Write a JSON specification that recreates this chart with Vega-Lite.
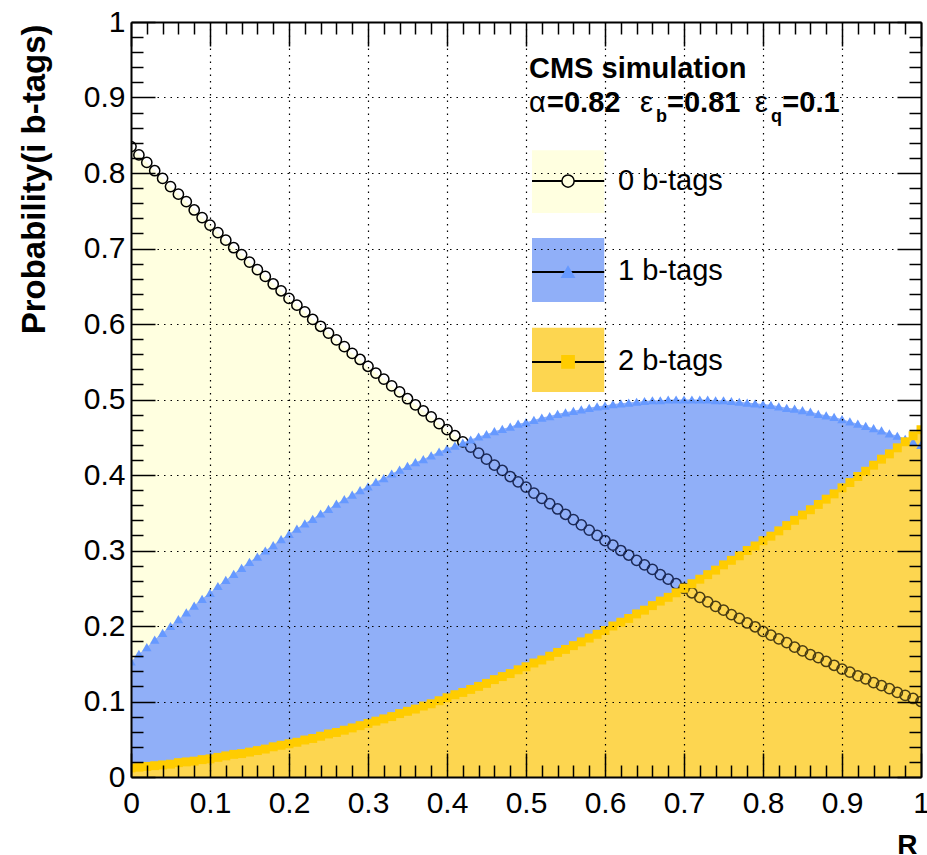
{
  "$schema": "https://vega.github.io/schema/vega-lite/v6.json",
  "width": 790,
  "height": 755,
  "autosize": {"type": "none"},
  "padding": {"left": 131, "top": 22, "right": 6, "bottom": 78},
  "background": "white",
  "config": {"view": {"stroke": null}, "font": "Liberation Sans"},
  "datasets": {
    "curves": [
      {"R":0,"p0":0.835,"p1":0.153,"p2":0.012},
      {"R":0.01,"p0":0.824,"p1":0.163,"p2":0.013},
      {"R":0.02,"p0":0.814,"p1":0.172,"p2":0.014},
      {"R":0.03,"p0":0.803,"p1":0.182,"p2":0.015},
      {"R":0.04,"p0":0.793,"p1":0.191,"p2":0.016},
      {"R":0.05,"p0":0.782,"p1":0.200,"p2":0.017},
      {"R":0.06,"p0":0.772,"p1":0.209,"p2":0.019},
      {"R":0.07,"p0":0.762,"p1":0.218,"p2":0.020},
      {"R":0.08,"p0":0.751,"p1":0.227,"p2":0.021},
      {"R":0.09,"p0":0.741,"p1":0.236,"p2":0.023},
      {"R":0.10,"p0":0.731,"p1":0.244,"p2":0.024},
      {"R":0.11,"p0":0.721,"p1":0.253,"p2":0.026},
      {"R":0.12,"p0":0.711,"p1":0.261,"p2":0.028},
      {"R":0.13,"p0":0.701,"p1":0.269,"p2":0.030},
      {"R":0.14,"p0":0.692,"p1":0.277,"p2":0.031},
      {"R":0.15,"p0":0.682,"p1":0.285,"p2":0.033},
      {"R":0.16,"p0":0.672,"p1":0.292,"p2":0.035},
      {"R":0.17,"p0":0.663,"p1":0.300,"p2":0.037},
      {"R":0.18,"p0":0.653,"p1":0.307,"p2":0.040},
      {"R":0.19,"p0":0.644,"p1":0.315,"p2":0.042},
      {"R":0.20,"p0":0.634,"p1":0.322,"p2":0.044},
      {"R":0.21,"p0":0.625,"p1":0.329,"p2":0.046},
      {"R":0.22,"p0":0.616,"p1":0.336,"p2":0.049},
      {"R":0.23,"p0":0.606,"p1":0.342,"p2":0.051},
      {"R":0.24,"p0":0.597,"p1":0.349,"p2":0.054},
      {"R":0.25,"p0":0.588,"p1":0.355,"p2":0.057},
      {"R":0.26,"p0":0.579,"p1":0.362,"p2":0.059},
      {"R":0.27,"p0":0.570,"p1":0.368,"p2":0.062},
      {"R":0.28,"p0":0.561,"p1":0.374,"p2":0.065},
      {"R":0.29,"p0":0.553,"p1":0.380,"p2":0.068},
      {"R":0.30,"p0":0.544,"p1":0.385,"p2":0.071},
      {"R":0.31,"p0":0.535,"p1":0.391,"p2":0.074},
      {"R":0.32,"p0":0.527,"p1":0.396,"p2":0.077},
      {"R":0.33,"p0":0.518,"p1":0.402,"p2":0.080},
      {"R":0.34,"p0":0.510,"p1":0.407,"p2":0.084},
      {"R":0.35,"p0":0.501,"p1":0.412,"p2":0.087},
      {"R":0.36,"p0":0.493,"p1":0.417,"p2":0.090},
      {"R":0.37,"p0":0.485,"p1":0.421,"p2":0.094},
      {"R":0.38,"p0":0.477,"p1":0.426,"p2":0.097},
      {"R":0.39,"p0":0.468,"p1":0.431,"p2":0.101},
      {"R":0.40,"p0":0.460,"p1":0.435,"p2":0.105},
      {"R":0.41,"p0":0.452,"p1":0.439,"p2":0.109},
      {"R":0.42,"p0":0.444,"p1":0.443,"p2":0.112},
      {"R":0.43,"p0":0.437,"p1":0.447,"p2":0.116},
      {"R":0.44,"p0":0.429,"p1":0.451,"p2":0.120},
      {"R":0.45,"p0":0.421,"p1":0.454,"p2":0.124},
      {"R":0.46,"p0":0.413,"p1":0.458,"p2":0.129},
      {"R":0.47,"p0":0.406,"p1":0.461,"p2":0.133},
      {"R":0.48,"p0":0.398,"p1":0.464,"p2":0.137},
      {"R":0.49,"p0":0.391,"p1":0.468,"p2":0.142},
      {"R":0.50,"p0":0.384,"p1":0.470,"p2":0.146},
      {"R":0.51,"p0":0.376,"p1":0.473,"p2":0.151},
      {"R":0.52,"p0":0.369,"p1":0.476,"p2":0.155},
      {"R":0.53,"p0":0.362,"p1":0.478,"p2":0.160},
      {"R":0.54,"p0":0.355,"p1":0.481,"p2":0.165},
      {"R":0.55,"p0":0.348,"p1":0.483,"p2":0.169},
      {"R":0.56,"p0":0.341,"p1":0.485,"p2":0.174},
      {"R":0.57,"p0":0.334,"p1":0.487,"p2":0.179},
      {"R":0.58,"p0":0.327,"p1":0.489,"p2":0.184},
      {"R":0.59,"p0":0.320,"p1":0.491,"p2":0.189},
      {"R":0.60,"p0":0.313,"p1":0.492,"p2":0.194},
      {"R":0.61,"p0":0.307,"p1":0.494,"p2":0.200},
      {"R":0.62,"p0":0.300,"p1":0.495,"p2":0.205},
      {"R":0.63,"p0":0.294,"p1":0.496,"p2":0.210},
      {"R":0.64,"p0":0.287,"p1":0.497,"p2":0.216},
      {"R":0.65,"p0":0.281,"p1":0.498,"p2":0.221},
      {"R":0.66,"p0":0.275,"p1":0.499,"p2":0.227},
      {"R":0.67,"p0":0.268,"p1":0.499,"p2":0.233},
      {"R":0.68,"p0":0.262,"p1":0.500,"p2":0.238},
      {"R":0.69,"p0":0.256,"p1":0.500,"p2":0.244},
      {"R":0.70,"p0":0.250,"p1":0.500,"p2":0.250},
      {"R":0.71,"p0":0.244,"p1":0.500,"p2":0.256},
      {"R":0.72,"p0":0.238,"p1":0.500,"p2":0.262},
      {"R":0.73,"p0":0.232,"p1":0.500,"p2":0.268},
      {"R":0.74,"p0":0.226,"p1":0.499,"p2":0.274},
      {"R":0.75,"p0":0.221,"p1":0.499,"p2":0.281},
      {"R":0.76,"p0":0.215,"p1":0.498,"p2":0.287},
      {"R":0.77,"p0":0.210,"p1":0.497,"p2":0.293},
      {"R":0.78,"p0":0.204,"p1":0.496,"p2":0.300},
      {"R":0.79,"p0":0.199,"p1":0.495,"p2":0.306},
      {"R":0.80,"p0":0.193,"p1":0.494,"p2":0.313},
      {"R":0.81,"p0":0.188,"p1":0.493,"p2":0.319},
      {"R":0.82,"p0":0.183,"p1":0.491,"p2":0.326},
      {"R":0.83,"p0":0.178,"p1":0.489,"p2":0.333},
      {"R":0.84,"p0":0.172,"p1":0.488,"p2":0.340},
      {"R":0.85,"p0":0.167,"p1":0.486,"p2":0.347},
      {"R":0.86,"p0":0.162,"p1":0.484,"p2":0.354},
      {"R":0.87,"p0":0.158,"p1":0.481,"p2":0.361},
      {"R":0.88,"p0":0.153,"p1":0.479,"p2":0.368},
      {"R":0.89,"p0":0.148,"p1":0.477,"p2":0.375},
      {"R":0.90,"p0":0.143,"p1":0.474,"p2":0.383},
      {"R":0.91,"p0":0.139,"p1":0.471,"p2":0.390},
      {"R":0.92,"p0":0.134,"p1":0.468,"p2":0.398},
      {"R":0.93,"p0":0.130,"p1":0.465,"p2":0.405},
      {"R":0.94,"p0":0.125,"p1":0.462,"p2":0.413},
      {"R":0.95,"p0":0.121,"p1":0.459,"p2":0.421},
      {"R":0.96,"p0":0.117,"p1":0.455,"p2":0.428},
      {"R":0.97,"p0":0.112,"p1":0.452,"p2":0.436},
      {"R":0.98,"p0":0.108,"p1":0.448,"p2":0.444},
      {"R":0.99,"p0":0.104,"p1":0.444,"p2":0.452},
      {"R":1.00,"p0":0.100,"p1":0.440,"p2":0.460}
    ],
    "legend": [
      {"series":"0 b-tags","x0":0.5076,"x1":0.599,"ylo":0.747,"yhi":0.830,"yl":0.7894,"xm":0.5532,"tx":0.6165,"ty":0.7775},
      {"series":"1 b-tags","x0":0.5076,"x1":0.599,"ylo":0.629,"yhi":0.714,"yl":0.6689,"xm":0.5532,"tx":0.6165,"ty":0.6583},
      {"series":"2 b-tags","x0":0.5076,"x1":0.599,"ylo":0.510,"yhi":0.595,"yl":0.5497,"xm":0.5532,"tx":0.6165,"ty":0.5391}
    ],
    "notes": [
      {"kind":"bold","text":"CMS simulation","x":0.5038,"y":0.9258},
      {"kind":"greek","text":"α","x":0.5038,"y":0.8808},
      {"kind":"bold","text":"=0.82","x":0.5266,"y":0.8808},
      {"kind":"greek","text":"ε","x":0.6443,"y":0.8808},
      {"kind":"sub","text":"b","x":0.6645,"y":0.8675},
      {"kind":"bold","text":"=0.81","x":0.6785,"y":0.8808},
      {"kind":"greek","text":"ε","x":0.7899,"y":0.8808},
      {"kind":"sub","text":"q","x":0.8101,"y":0.8675},
      {"kind":"bold","text":"=0.1","x":0.8245,"y":0.8808}
    ]
  },
  "resolve": {"axis": {"x": "independent", "y": "independent"}},
  "layer": [
    {
      "data": {"name": "curves"},
      "mark": {"type": "area", "fill": "#ffffe0"},
      "encoding": {
        "x": {"field": "R", "type": "quantitative", "scale": {"domain": [0, 1], "nice": false},
          "axis": {
            "orient": "bottom", "zindex": 1,
            "values": [0,0.02,0.04,0.06,0.08,0.1,0.12,0.14,0.16,0.18,0.2,0.22,0.24,0.26,0.28,0.3,0.32,0.34,0.36,0.38,0.4,0.42,0.44,0.46,0.48,0.5,0.52,0.54,0.56,0.58,0.6,0.62,0.64,0.66,0.68,0.7,0.72,0.74,0.76,0.78,0.8,0.82,0.84,0.86,0.88,0.9,0.92,0.94,0.96,0.98,1],
            "labelExpr": "abs(datum.value*10 - round(datum.value*10)) < 0.001 ? format(datum.value, '~g') : ''",
            "labelFont": "Liberation Sans", "labelFontSize": 30, "labelColor": "black",
            "labelFlush": false, "labelOverlap": false, "labelBound": false,
            "labelPadding": 35,
            "tickSize": {"condition": {"test": "abs(datum.value*10 - round(datum.value*10)) < 0.001", "value": -24}, "value": -12},
            "tickColor": "black", "tickWidth": 1.5,
            "domainColor": "black", "domainWidth": 2,
            "grid": true, "gridColor": "black", "gridWidth": 1.2, "gridDash": [1.5, 5],
            "gridOpacity": {"condition": {"test": "abs(datum.value*10 - round(datum.value*10)) < 0.001 && datum.value > 0.001 && datum.value < 0.999", "value": 1}, "value": 0},
            "title": "R", "titleFont": "Liberation Sans", "titleFontSize": 28, "titleFontWeight": "bold", "titleColor": "black",
            "titleX": 786, "titleY": 76, "titleAlign": "right", "titleBaseline": "alphabetic", "titleAnchor": "end"
          }
        },
        "y": {"field": "p0", "type": "quantitative", "scale": {"domain": [0, 1], "nice": false},
          "axis": {
            "orient": "left", "zindex": 1,
            "values": [0,0.02,0.04,0.06,0.08,0.1,0.12,0.14,0.16,0.18,0.2,0.22,0.24,0.26,0.28,0.3,0.32,0.34,0.36,0.38,0.4,0.42,0.44,0.46,0.48,0.5,0.52,0.54,0.56,0.58,0.6,0.62,0.64,0.66,0.68,0.7,0.72,0.74,0.76,0.78,0.8,0.82,0.84,0.86,0.88,0.9,0.92,0.94,0.96,0.98,1],
            "labelExpr": "abs(datum.value*10 - round(datum.value*10)) < 0.001 ? format(datum.value, '~g') : ''",
            "labelFont": "Liberation Sans", "labelFontSize": 30, "labelColor": "black",
            "labelFlush": false, "labelOverlap": false, "labelBound": false,
            "labelPadding": 30,
            "tickSize": {"condition": {"test": "abs(datum.value*10 - round(datum.value*10)) < 0.001", "value": -24}, "value": -12},
            "tickColor": "black", "tickWidth": 1.5,
            "domainColor": "black", "domainWidth": 2,
            "grid": true, "gridColor": "black", "gridWidth": 1.2, "gridDash": [1.5, 5],
            "gridOpacity": {"condition": {"test": "abs(datum.value*10 - round(datum.value*10)) < 0.001 && datum.value > 0.001 && datum.value < 0.999", "value": 1}, "value": 0},
            "title": "Probability(i b-tags)", "titleFont": "Liberation Sans", "titleFontSize": 33, "titleFontWeight": "bold", "titleColor": "black",
            "titleAngle": -90, "titleX": -87, "titleY": 2, "titleAlign": "right", "titleBaseline": "alphabetic", "titleAnchor": "end"
          }
        }
      }
    },
    {
      "data": {"name": "curves"},
      "mark": {"type": "area", "fill": "#90aff8"},
      "encoding": {
        "x": {"field": "R", "type": "quantitative", "scale": {"domain": [0, 1], "nice": false}, "axis": null},
        "y": {"field": "p1", "type": "quantitative", "scale": {"domain": [0, 1], "nice": false}, "axis": null}
      }
    },
    {
      "data": {"name": "curves"},
      "mark": {"type": "area", "fill": "#fdd650"},
      "encoding": {
        "x": {"field": "R", "type": "quantitative", "scale": {"domain": [0, 1], "nice": false}, "axis": null},
        "y": {"field": "p2", "type": "quantitative", "scale": {"domain": [0, 1], "nice": false}, "axis": null}
      }
    },
    {
      "data": {"name": "legend"},
      "mark": {"type": "rect"},
      "encoding": {
        "x": {"field": "x0", "type": "quantitative", "scale": {"domain": [0, 1], "nice": false}, "axis": null},
        "x2": {"field": "x1"},
        "y": {"field": "ylo", "type": "quantitative", "scale": {"domain": [0, 1], "nice": false}, "axis": null},
        "y2": {"field": "yhi"},
        "color": {"field": "series", "type": "nominal", "scale": {"domain": ["0 b-tags", "1 b-tags", "2 b-tags"], "range": ["#ffffe0", "#90aff8", "#fdd650"]}, "legend": null}
      }
    },
    {
      "data": {"name": "legend"},
      "mark": {"type": "rule", "color": "black", "strokeWidth": 2},
      "encoding": {
        "x": {"field": "x0", "type": "quantitative", "scale": {"domain": [0, 1], "nice": false}, "axis": null},
        "x2": {"field": "x1"},
        "y": {"field": "yl", "type": "quantitative", "scale": {"domain": [0, 1], "nice": false}, "axis": null}
      }
    },
    {
      "data": {"name": "curves"},
      "mark": {"type": "point", "shape": "circle", "filled": false, "size": 105, "strokeWidth": 1.5, "opacity": 1, "clip": true},
      "encoding": {
        "x": {"field": "R", "type": "quantitative", "scale": {"domain": [0, 1], "nice": false},
          "axis": {
            "orient": "top", "zindex": 1,
            "values": [0,0.02,0.04,0.06,0.08,0.1,0.12,0.14,0.16,0.18,0.2,0.22,0.24,0.26,0.28,0.3,0.32,0.34,0.36,0.38,0.4,0.42,0.44,0.46,0.48,0.5,0.52,0.54,0.56,0.58,0.6,0.62,0.64,0.66,0.68,0.7,0.72,0.74,0.76,0.78,0.8,0.82,0.84,0.86,0.88,0.9,0.92,0.94,0.96,0.98,1],
            "labels": false, "grid": false, "title": null,
            "tickSize": {"condition": {"test": "abs(datum.value*10 - round(datum.value*10)) < 0.001", "value": -24}, "value": -12},
            "tickColor": "black", "tickWidth": 1.5,
            "domainColor": "black", "domainWidth": 2
          }
        },
        "y": {"field": "p0", "type": "quantitative", "scale": {"domain": [0, 1], "nice": false},
          "axis": {
            "orient": "right", "zindex": 1,
            "values": [0,0.02,0.04,0.06,0.08,0.1,0.12,0.14,0.16,0.18,0.2,0.22,0.24,0.26,0.28,0.3,0.32,0.34,0.36,0.38,0.4,0.42,0.44,0.46,0.48,0.5,0.52,0.54,0.56,0.58,0.6,0.62,0.64,0.66,0.68,0.7,0.72,0.74,0.76,0.78,0.8,0.82,0.84,0.86,0.88,0.9,0.92,0.94,0.96,0.98,1],
            "labels": false, "grid": false, "title": null,
            "tickSize": {"condition": {"test": "abs(datum.value*10 - round(datum.value*10)) < 0.001", "value": -24}, "value": -12},
            "tickColor": "black", "tickWidth": 1.5,
            "domainColor": "black", "domainWidth": 2
          }
        },
        "stroke": {"condition": [{"test": "datum.R >= 0.695", "value": "#4a3d12"}, {"test": "datum.R >= 0.425", "value": "#1c2a58"}], "value": "black"}
      }
    },
    {
      "data": {"name": "curves"},
      "mark": {"type": "point", "shape": "triangle-up", "filled": true, "color": "#6699ff", "size": 90, "opacity": 1, "clip": true},
      "encoding": {
        "x": {"field": "R", "type": "quantitative", "scale": {"domain": [0, 1], "nice": false}, "axis": null},
        "y": {"field": "p1", "type": "quantitative", "scale": {"domain": [0, 1], "nice": false}, "axis": null}
      }
    },
    {
      "data": {"name": "curves"},
      "mark": {"type": "point", "shape": "square", "filled": true, "color": "#ffcc00", "size": 80, "opacity": 1, "clip": true},
      "encoding": {
        "x": {"field": "R", "type": "quantitative", "scale": {"domain": [0, 1], "nice": false}, "axis": null},
        "y": {"field": "p2", "type": "quantitative", "scale": {"domain": [0, 1], "nice": false}, "axis": null}
      }
    },
    {
      "data": {"name": "legend"},
      "mark": {"type": "point", "filled": true, "size": 150, "strokeWidth": 1.5, "opacity": 1},
      "encoding": {
        "x": {"field": "xm", "type": "quantitative", "scale": {"domain": [0, 1], "nice": false}, "axis": null},
        "y": {"field": "yl", "type": "quantitative", "scale": {"domain": [0, 1], "nice": false}, "axis": null},
        "shape": {"field": "series", "type": "nominal", "scale": {"domain": ["0 b-tags", "1 b-tags", "2 b-tags"], "range": ["circle", "triangle-up", "square"]}, "legend": null},
        "fill": {"field": "series", "type": "nominal", "scale": {"domain": ["0 b-tags", "1 b-tags", "2 b-tags"], "range": ["#ffffe0", "#6699ff", "#ffcc00"]}, "legend": null},
        "stroke": {"field": "series", "type": "nominal", "scale": {"domain": ["0 b-tags", "1 b-tags", "2 b-tags"], "range": ["black", "#6699ff", "#ffcc00"]}, "legend": null}
      }
    },
    {
      "data": {"name": "legend"},
      "mark": {"type": "text", "align": "left", "baseline": "alphabetic", "font": "Liberation Sans", "fontSize": 29, "color": "black"},
      "encoding": {
        "x": {"field": "tx", "type": "quantitative", "scale": {"domain": [0, 1], "nice": false}, "axis": null},
        "y": {"field": "ty", "type": "quantitative", "scale": {"domain": [0, 1], "nice": false}, "axis": null},
        "text": {"field": "series"}
      }
    },
    {
      "data": {"name": "notes"},
      "transform": [{"filter": "datum.kind == 'bold'"}],
      "mark": {"type": "text", "align": "left", "baseline": "alphabetic", "font": "Liberation Sans", "fontSize": 29, "fontWeight": "bold", "color": "black"},
      "encoding": {
        "x": {"field": "x", "type": "quantitative", "scale": {"domain": [0, 1], "nice": false}, "axis": null},
        "y": {"field": "y", "type": "quantitative", "scale": {"domain": [0, 1], "nice": false}, "axis": null},
        "text": {"field": "text"}
      }
    },
    {
      "data": {"name": "notes"},
      "transform": [{"filter": "datum.kind == 'greek'"}],
      "mark": {"type": "text", "align": "left", "baseline": "alphabetic", "font": "Liberation Sans", "fontSize": 29, "color": "black"},
      "encoding": {
        "x": {"field": "x", "type": "quantitative", "scale": {"domain": [0, 1], "nice": false}, "axis": null},
        "y": {"field": "y", "type": "quantitative", "scale": {"domain": [0, 1], "nice": false}, "axis": null},
        "text": {"field": "text"}
      }
    },
    {
      "data": {"name": "notes"},
      "transform": [{"filter": "datum.kind == 'sub'"}],
      "mark": {"type": "text", "align": "left", "baseline": "alphabetic", "font": "Liberation Sans", "fontSize": 18, "fontWeight": "bold", "color": "black"},
      "encoding": {
        "x": {"field": "x", "type": "quantitative", "scale": {"domain": [0, 1], "nice": false}, "axis": null},
        "y": {"field": "y", "type": "quantitative", "scale": {"domain": [0, 1], "nice": false}, "axis": null},
        "text": {"field": "text"}
      }
    }
  ]
}
